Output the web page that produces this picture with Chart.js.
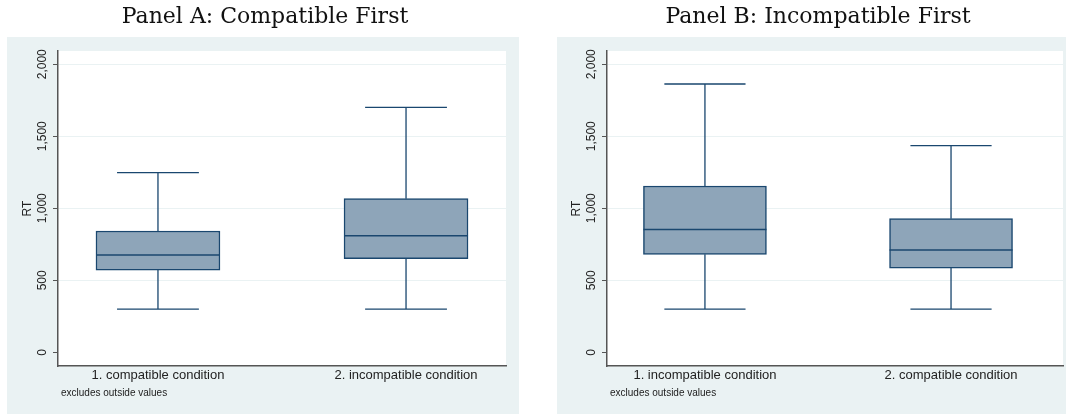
<!DOCTYPE html>
<html>
<head>
<meta charset="utf-8">
<script src="https://cdn.jsdelivr.net/npm/chart.js@4.4.1/dist/chart.umd.min.js"></script>
<style>
  html, body { margin: 0; padding: 0; background: #fff; overflow: hidden; }
  #wrap { position: relative; width: 1066px; height: 414px; overflow: hidden; }
  canvas { position: absolute; top: 0; }
</style>
</head>
<body>
<div id="wrap">
  <canvas id="panelA" width="530" height="414" style="left:0px"></canvas>
  <canvas id="panelB" width="530" height="414" style="left:553px"></canvas>
</div>
<script>
// data (RT in ms)
const yTicks = [0, 500, 1000, 1500, 2000];

const catsA = ['1. compatible condition', '2. incompatible condition'];
const lowA = [300, 300];
const q1A = [571, 650];
const medA = [676, 810];
const q3A = [842, 1067];
const highA = [1247, 1700];

const catsB = ['1. incompatible condition', '2. compatible condition'];
const lowB = [300, 300];
const q1B = [680, 585];
const medB = [852, 710];
const q3B = [1155, 928];
const highB = [1863, 1435];

const BG = '#EAF2F3';
const NAVY = '#1A476F';
const FILL = '#8EA5B9';
const AXIS = '#555555';
const TXT = '#222222';

// panel background + white plot region
const bgPlugin = {
  id: 'bg',
  beforeDraw(chart, args, opts) {
    const {ctx, chartArea: a} = chart;
    ctx.save();
    ctx.fillStyle = BG;
    ctx.fillRect(opts.left, 37, opts.right - opts.left, chart.height - 37);
    ctx.fillStyle = '#fff';
    ctx.fillRect(a.left, a.top, a.right - a.left, a.bottom - a.top);
    ctx.restore();
  }
};

// whiskers, caps and median on top of the floating IQR bars
const whiskerPlugin = {
  id: 'whiskers',
  afterDatasetsDraw(chart, args, opts) {
    const {ctx} = chart;
    const y = chart.scales.y;
    const meta = chart.getDatasetMeta(0);
    ctx.save();
    ctx.strokeStyle = NAVY;
    meta.data.forEach((bar, i) => {
      const half = bar.width / 2;
      const cap = half * 0.66;
      const pLow = y.getPixelForValue(opts.low[i]);
      const pHigh = y.getPixelForValue(opts.high[i]);
      const pQ1 = y.getPixelForValue(opts.q1[i]);
      const pQ3 = y.getPixelForValue(opts.q3[i]);
      const pMed = y.getPixelForValue(opts.med[i]);
      ctx.lineWidth = 1.3;
      ctx.beginPath();
      ctx.moveTo(bar.x, pQ3); ctx.lineTo(bar.x, pHigh);
      ctx.moveTo(bar.x, pQ1); ctx.lineTo(bar.x, pLow);
      ctx.moveTo(bar.x - cap, pHigh); ctx.lineTo(bar.x + cap, pHigh);
      ctx.moveTo(bar.x - cap, pLow); ctx.lineTo(bar.x + cap, pLow);
      ctx.stroke();
      ctx.lineWidth = 1.5;
      ctx.beginPath();
      ctx.moveTo(bar.x - half, pMed); ctx.lineTo(bar.x + half, pMed);
      ctx.stroke();
    });
    ctx.restore();
  }
};

// Stata style vertical tick labels + note under the plot
const labelPlugin = {
  id: 'vlabels',
  afterDraw(chart, args, opts) {
    const {ctx, chartArea: a} = chart;
    const y = chart.scales.y;
    ctx.save();
    ctx.fillStyle = TXT;
    ctx.font = '12px "Liberation Sans", Arial, sans-serif';
    ctx.textAlign = 'center';
    ctx.textBaseline = 'middle';
    y.ticks.forEach(t => {
      ctx.save();
      ctx.translate(a.left - 15.5, y.getPixelForValue(t.value));
      ctx.rotate(-Math.PI / 2);
      ctx.fillText(t.value.toLocaleString('en-US'), 0, 0);
      ctx.restore();
    });
    ctx.font = '10px "Liberation Sans", Arial, sans-serif';
    ctx.textAlign = 'left';
    ctx.textBaseline = 'alphabetic';
    ctx.fillText('excludes outside values', a.left + 3, 396);
    ctx.restore();
  }
};

function makePanel(id, title, cats, low, q1, med, q3, high, o) {
  new Chart(document.getElementById(id), {
    type: 'bar',
    data: {
      datasets: [{
        data: cats.map((c, i) => ({x: i + 1, y: [q1[i], q3[i]]})),
        backgroundColor: FILL,
        borderColor: NAVY,
        borderWidth: 1.5,
        borderSkipped: false,
        barThickness: o.box
      }]
    },
    options: {
      responsive: false,
      animation: false,
      devicePixelRatio: 1,
      // equal side padding keeps the title centred on the canvas
      layout: {padding: {left: o.pad, right: o.pad, top: 0, bottom: 0}},
      plugins: {
        legend: {display: false},
        tooltip: {enabled: false},
        title: {
          display: true,
          text: title,
          color: '#111',
          font: {family: '"DejaVu Serif", serif', size: 22, weight: 'normal'},
          padding: {top: 4, bottom: 20.6}
        },
        bg: {left: o.bgLeft, right: o.bgRight},
        whiskers: {low, q1, med, q3, high}
      },
      scales: {
        x: {
          type: 'linear',
          offset: false,
          min: o.xMin,
          max: o.xMax,
          afterBuildTicks: s => { s.ticks = cats.map((c, i) => ({value: i + 1})); },
          afterFit: s => { s.height = 48; },
          grid: {display: false, drawTicks: false},
          border: {display: true, color: AXIS, width: 1.5},
          ticks: {
            padding: 2,
            color: TXT,
            font: {family: '"Liberation Sans", Arial, sans-serif', size: 13},
            callback: v => cats[v - 1]
          }
        },
        y: {
          min: -95,
          max: 2092,
          afterBuildTicks: s => { s.ticks = yTicks.map(v => ({value: v})); },
          afterFit: s => { s.width = o.axisLeft - o.pad; },
          grid: {
            color: c => (c.tick && c.tick.value === 0) ? 'rgba(0,0,0,0)' : BG,
            tickColor: AXIS,
            tickLength: 5,
            lineWidth: 1
          },
          border: {display: true, color: AXIS, width: 1.5},
          ticks: {display: false},
          title: {
            display: true,
            text: 'RT',
            color: TXT,
            font: {family: '"Liberation Sans", Arial, sans-serif', size: 12},
            padding: {top: o.axisLeft - o.pad - 30.5 - 7.2, bottom: 0}
          }
        }
      }
    },
    plugins: [bgPlugin, whiskerPlugin, labelPlugin]
  });
}

makePanel('panelA', 'Panel A: Compatible First', catsA, lowA, q1A, medA, q3A, highA,
  {axisLeft: 58, pad: 24, bgLeft: 7, bgRight: 519, xMin: 0.597, xMax: 2.403, box: 124});
makePanel('panelB', 'Panel B: Incompatible First', catsB, lowB, q1B, medB, q3B, highB,
  {axisLeft: 54, pad: 20, bgLeft: 4, bgRight: 530, xMin: 0.602, xMax: 2.455, box: 123});
</script>
</body>
</html>
